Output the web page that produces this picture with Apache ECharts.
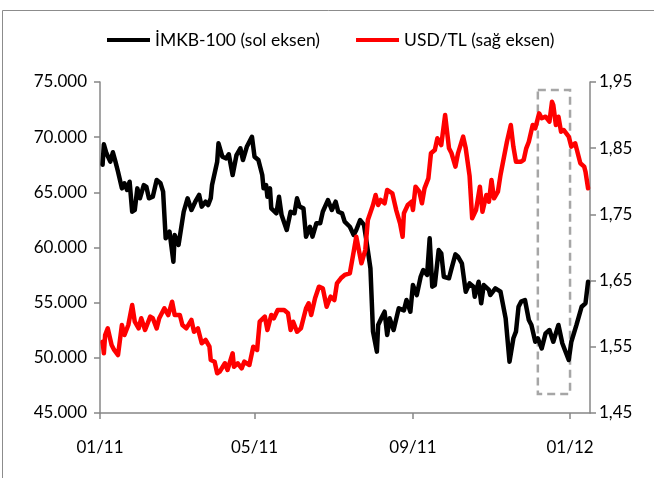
<!DOCTYPE html>
<html><head><meta charset="utf-8">
<script src="https://cdn.jsdelivr.net/npm/echarts@6/dist/echarts.min.js"></script>
<style>html,body{margin:0;padding:0;background:#fff}#c{width:654px;height:478px}</style>
</head><body><div id="c"></div><script>
// ---- data ----
const imkbDates = ['2011-01-03','2011-01-04','2011-01-06','2011-01-09','2011-01-11','2011-01-13','2011-01-15','2011-01-18','2011-01-20','2011-01-22','2011-01-24','2011-01-26','2011-01-28','2011-01-30','2011-02-01','2011-02-04','2011-02-06','2011-02-08','2011-02-11','2011-02-14','2011-02-17','2011-02-19','2011-02-21','2011-02-24','2011-02-27','2011-02-28','2011-03-03','2011-03-07','2011-03-10','2011-03-13','2011-03-16','2011-03-19','2011-03-21','2011-03-24','2011-03-26','2011-03-28','2011-03-29','2011-04-02','2011-04-03','2011-04-06','2011-04-09','2011-04-11','2011-04-14','2011-04-17','2011-04-20','2011-04-22','2011-04-25','2011-04-29','2011-05-01','2011-05-04','2011-05-07','2011-05-08','2011-05-10','2011-05-11','2011-05-13','2011-05-14','2011-05-18','2011-05-20','2011-05-22','2011-05-26','2011-05-29','2011-06-01','2011-06-03','2011-06-05','2011-06-08','2011-06-10','2011-06-13','2011-06-15','2011-06-18','2011-06-21','2011-06-23','2011-06-27','2011-06-30','2011-07-03','2011-07-05','2011-07-08','2011-07-10','2011-07-14','2011-07-17','2011-07-19','2011-07-22','2011-07-25','2011-07-27','2011-07-30','2011-08-01','2011-08-04','2011-08-05','2011-08-08','2011-08-10','2011-08-12','2011-08-14','2011-08-17','2011-08-21','2011-08-25','2011-08-27','2011-08-30','2011-09-01','2011-09-04','2011-09-07','2011-09-09','2011-09-12','2011-09-14','2011-09-16','2011-09-18','2011-09-21','2011-09-23','2011-09-25','2011-09-29','2011-10-01','2011-10-04','2011-10-06','2011-10-09','2011-10-12','2011-10-15','2011-10-18','2011-10-19','2011-10-22','2011-10-24','2011-10-26','2011-10-30','2011-10-31','2011-11-04','2011-11-08','2011-11-12','2011-11-15','2011-11-18','2011-11-20','2011-11-22','2011-11-24','2011-11-27','2011-11-30','2011-12-02','2011-12-05','2011-12-07','2011-12-10','2011-12-13','2011-12-16','2011-12-19','2011-12-23','2011-12-26','2011-12-28','2011-12-31','2012-01-02','2012-01-06','2012-01-10','2012-01-13','2012-01-15'];
const imkbValues = [67500,69350,68540,67780,68630,67780,66870,65360,65820,65210,65960,63240,63400,65360,64460,65660,65500,64460,64600,66120,65820,65060,60830,61430,58710,61130,60230,63240,64460,63400,64150,64760,63700,64150,63850,64460,65660,67780,69440,68230,68080,68450,66570,68380,68990,67930,69130,70040,68230,67930,66570,65360,65660,64600,65360,63550,63100,64600,62940,61590,63240,63100,64460,63700,63550,60980,61880,60980,62190,62190,63240,64300,63400,64150,63240,63100,62340,61880,61130,61590,62490,62040,60520,58110,52370,50560,52980,53730,54180,52070,53580,52520,54490,54300,55240,54180,56600,55690,57350,57960,57510,60830,56450,56600,59770,59470,57350,57210,58110,59380,59170,58570,55990,56750,56450,55540,56900,54940,56600,56150,55690,56300,55990,53580,49650,51770,52370,54630,55090,55240,53430,52980,51460,51770,50860,52220,52520,51460,52980,51320,50710,49800,51460,52980,54630,54940,56900];

const usdDates = ['2011-01-03','2011-01-04','2011-01-05','2011-01-07','2011-01-10','2011-01-12','2011-01-15','2011-01-18','2011-01-20','2011-01-23','2011-01-26','2011-01-28','2011-01-31','2011-02-02','2011-02-05','2011-02-09','2011-02-11','2011-02-14','2011-02-16','2011-02-20','2011-02-23','2011-02-26','2011-02-28','2011-03-04','2011-03-06','2011-03-09','2011-03-13','2011-03-15','2011-03-18','2011-03-21','2011-03-24','2011-03-27','2011-03-28','2011-03-31','2011-04-02','2011-04-04','2011-04-08','2011-04-10','2011-04-14','2011-04-15','2011-04-18','2011-04-21','2011-04-23','2011-04-27','2011-04-30','2011-05-03','2011-05-05','2011-05-09','2011-05-11','2011-05-14','2011-05-16','2011-05-19','2011-05-24','2011-05-27','2011-05-29','2011-05-31','2011-06-03','2011-06-06','2011-06-10','2011-06-12','2011-06-14','2011-06-17','2011-06-20','2011-06-23','2011-06-26','2011-06-29','2011-07-02','2011-07-04','2011-07-07','2011-07-10','2011-07-14','2011-07-17','2011-07-19','2011-07-23','2011-07-26','2011-07-28','2011-08-01','2011-08-03','2011-08-05','2011-08-07','2011-08-10','2011-08-12','2011-08-16','2011-08-19','2011-08-22','2011-08-24','2011-08-25','2011-08-28','2011-08-31','2011-09-01','2011-09-03','2011-09-06','2011-09-08','2011-09-10','2011-09-13','2011-09-15','2011-09-18','2011-09-20','2011-09-23','2011-09-26','2011-09-29','2011-10-01','2011-10-04','2011-10-06','2011-10-10','2011-10-12','2011-10-15','2011-10-17','2011-10-20','2011-10-23','2011-10-25','2011-10-28','2011-10-30','2011-11-01','2011-11-03','2011-11-06','2011-11-08','2011-11-11','2011-11-13','2011-11-16','2011-11-18','2011-11-20','2011-11-24','2011-11-26','2011-11-28','2011-11-30','2011-12-03','2011-12-05','2011-12-08','2011-12-10','2011-12-13','2011-12-16','2011-12-18','2011-12-19','2011-12-21','2011-12-23','2011-12-25','2011-12-27','2011-12-31','2012-01-02','2012-01-05','2012-01-09','2012-01-12','2012-01-13','2012-01-15'];
const usdValues = [1.5577,1.5402,1.5678,1.5779,1.5527,1.5452,1.5376,1.5829,1.5678,1.5829,1.6131,1.5879,1.5779,1.5931,1.5754,1.5955,1.5931,1.5779,1.5931,1.6082,1.5980,1.6181,1.5980,1.5980,1.5829,1.5779,1.5905,1.5728,1.5779,1.5553,1.5603,1.5502,1.5301,1.5275,1.5100,1.5124,1.5251,1.5150,1.5402,1.5199,1.5251,1.5175,1.5275,1.5225,1.5502,1.5452,1.5879,1.5955,1.5754,1.5980,1.5931,1.6056,1.6056,1.6006,1.5754,1.5879,1.5728,1.5779,1.6082,1.6157,1.5980,1.6233,1.6408,1.6384,1.6106,1.6257,1.6207,1.6459,1.6535,1.6585,1.6610,1.6937,1.7163,1.6761,1.6962,1.7415,1.7642,1.7793,1.7642,1.7718,1.7668,1.7869,1.7819,1.7566,1.7366,1.7163,1.7517,1.7642,1.7692,1.7566,1.7918,1.7843,1.7668,1.7894,1.8045,1.8423,1.8473,1.8650,1.8548,1.9002,1.8498,1.8423,1.8221,1.8423,1.8674,1.8498,1.8080,1.7441,1.7566,1.7918,1.7541,1.7793,1.7692,1.8020,1.7743,1.7843,1.8095,1.8397,1.8598,1.8850,1.8523,1.8296,1.8296,1.8322,1.8498,1.8598,1.8850,1.8801,1.9027,1.8952,1.8976,1.8900,1.9202,1.9153,1.8850,1.8976,1.8749,1.8775,1.8674,1.8523,1.8574,1.8272,1.8221,1.8145,1.7894];

const seriesNames = ['İMKB-100 (sol eksen)', 'USD/TL (sağ eksen)'];
const xTickDates = ['2011-01-01','2011-05-01','2011-09-01','2012-01-01'];
const xTickLabels = ['01/11','05/11','09/11','01/12'];
const rightTicks = [1.45,1.55,1.65,1.75,1.85,1.95];
const xMinDate = '2011-01-01';
const xMaxDate = '2012-01-16';
// highlighted window (dashed box), in data units
const boxStart = '2011-12-07', boxEnd = '2012-01-01';
const boxTop = 74270, boxBottom = 46720;

// ---- helpers ----
function toTs(s){ const p = s.split('-').map(Number); return new Date(p[0], p[1]-1, p[2]).getTime(); }
const xTickTs = xTickDates.map(toTs);
const FONT = 'Lato';
const AXIS_COLOR = '#878787';

const chart = echarts.init(document.getElementById('c'), null, {renderer: 'canvas'});
chart.setOption({
  animation: false,
  backgroundColor: '#fff',
  textStyle: {fontFamily: FONT},
  graphic: [{
    type: 'rect', silent: true, z: -1,
    shape: {x: 2.5, y: 10.5, width: 700, height: 520},
    style: {fill: 'none', stroke: '#8c8c8c', lineWidth: 1}
  }],
  legend: {
    left: 107, top: 31, padding: 0,
    icon: 'rect', itemWidth: 43, itemHeight: 4, itemGap: 36,
    textStyle: {fontFamily: FONT, fontSize: 17.5, color: '#000'},
    data: seriesNames
  },
  grid: {left: 100, right: 64, top: 82, bottom: 65, containLabel: false},
  xAxis: {
    type: 'value',
    min: toTs(xMinDate), max: toTs(xMaxDate) + 12 * 3600 * 1000,
    splitLine: {show: false},
    axisLine: {show: true, lineStyle: {color: AXIS_COLOR, width: 1.5}},
    axisTick: {show: true, length: 6, customValues: xTickTs, lineStyle: {color: AXIS_COLOR, width: 1.5}},
    axisLabel: {
      customValues: xTickTs, margin: 26, fontSize: 17, color: '#000', fontFamily: FONT,
      formatter: function (v) { const i = xTickTs.indexOf(v); return i >= 0 ? xTickLabels[i] : ''; }
    }
  },
  yAxis: [{
    type: 'value', position: 'left', min: 45000, max: 75000, interval: 5000,
    splitLine: {show: false},
    axisLine: {show: true, lineStyle: {color: AXIS_COLOR, width: 1.5}},
    axisTick: {show: true, length: 6, lineStyle: {color: AXIS_COLOR, width: 1.5}},
    axisLabel: {
      margin: 13, fontSize: 17, color: '#000', fontFamily: FONT,
      formatter: function (v) { return String(Math.round(v)).replace(/\B(?=(\d{3})+(?!\d))/g, '.'); }
    }
  }, {
    type: 'value', position: 'right', min: 1.45, max: 1.95,
    splitLine: {show: false},
    axisLine: {show: true, lineStyle: {color: AXIS_COLOR, width: 1.5}},
    axisTick: {show: true, length: 6, customValues: rightTicks, lineStyle: {color: AXIS_COLOR, width: 1.5}},
    axisLabel: {
      customValues: rightTicks, margin: 9, fontSize: 17, color: '#000', fontFamily: FONT,
      formatter: function (v) { return v.toFixed(2).replace('.', ','); }
    }
  }],
  series: [{
    name: seriesNames[0], type: 'line', yAxisIndex: 0,
    data: imkbDates.map((d, i) => [toTs(d), imkbValues[i]]),
    showSymbol: false, color: '#000000',
    lineStyle: {color: '#000000', width: 4.5, join: 'round', cap: 'round'},
    markArea: {
      silent: true,
      label: {show: false},
      itemStyle: {color: 'rgba(0,0,0,0)', borderColor: '#a6a6a6', borderWidth: 2.5, borderType: [8, 5]},
      data: [[{coord: [toTs(boxStart), boxTop]}, {coord: [toTs(boxEnd), boxBottom]}]]
    }
  }, {
    name: seriesNames[1], type: 'line', yAxisIndex: 1,
    data: usdDates.map((d, i) => [toTs(d), usdValues[i]]),
    showSymbol: false, color: '#ff0000',
    lineStyle: {color: '#ff0000', width: 4.5, join: 'round', cap: 'round'}
  }]
});
</script></body></html>
